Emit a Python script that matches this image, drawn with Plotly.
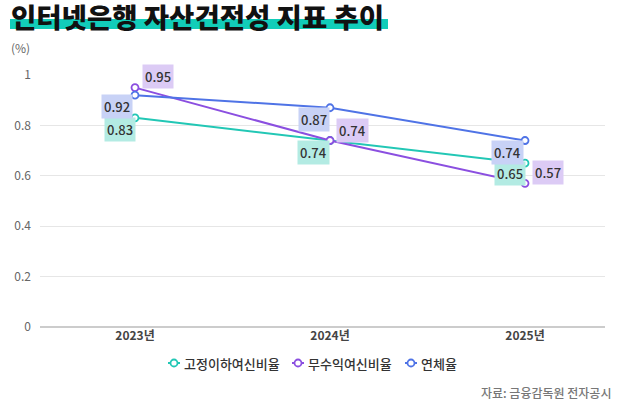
import plotly.graph_objects as go

# 데이터
years = ["2023년", "2024년", "2025년"]
npl_ratio = [0.83, 0.74, 0.65]      # 고정이하여신비율
nonperf_ratio = [0.95, 0.74, 0.57]  # 무수익여신비율
delinq_ratio = [0.92, 0.87, 0.74]   # 연체율
y_ticks = [0, 0.2, 0.4, 0.6, 0.8, 1]

FONT = "Noto Sans CJK KR"
x_pos = list(range(len(years)))

# 플롯 영역 (픽셀) -> paper 좌표 변환용
L, R, T, B = 40, 35, 75, 79
PW, PH = 640 - L - R, 406 - T - B


def px(x):
    return (x - L) / PW


def py(y):
    return (406 - B - y) / PH


series = [
    ("고정이하여신비율", npl_ratio, "#22c7b5", "#b3ebe3", [(-15, -12), (-17, -12), (-15, -10)], 174),
    ("무수익여신비율", nonperf_ratio, "#8b4fe0", "#dccbf5", [(23, 11), (22, 10), (23, 11)], 298),
    ("연체율", delinq_ratio, "#4f73e6", "#c8d2f6", [(-18, -11), (-16, -12), (-18, -12)], 411),
]

fig = go.Figure()
for name, vals, color, bg, shifts, lx in series:
    fig.add_trace(go.Scatter(
        x=x_pos, y=vals, name=name, mode="lines+markers",
        line=dict(color=color, width=2),
        marker=dict(symbol="circle", size=7, color="white", line=dict(color=color, width=1.8)),
        showlegend=False,
    ))
    # 값 라벨
    for i, v in enumerate(vals):
        fig.add_annotation(
            x=x_pos[i], y=v, text=f"{v:.2f}", showarrow=False,
            xshift=shifts[i][0], yshift=shifts[i][1],
            bgcolor=bg, borderpad=2,
            font=dict(family=FONT, size=13, color="#333333", weight=500),
        )
    # 범례 (작은 기호 직접 그림)
    ly = 363
    fig.add_shape(type="line", xref="paper", yref="paper",
                  x0=px(lx - 6), x1=px(lx + 6), y0=py(ly), y1=py(ly),
                  line=dict(color=color, width=2))
    fig.add_shape(type="circle", xref="paper", yref="paper",
                  x0=px(lx - 3.5), x1=px(lx + 3.5), y0=py(ly + 3.5), y1=py(ly - 3.5),
                  fillcolor="white", line=dict(color=color, width=1.8))
    fig.add_annotation(xref="paper", yref="paper", x=px(lx + 8), y=py(ly),
                       text=name, showarrow=False, xanchor="left", yanchor="middle",
                       font=dict(family=FONT, size=13, color="#333333", weight=500))

# 제목 밑 형광펜
fig.add_shape(type="rect", xref="paper", yref="paper",
              x0=px(10), x1=px(388), y0=py(29), y1=py(19),
              fillcolor="#12cdb9", line_width=0, layer="below")

fig.add_annotation(xref="paper", yref="paper", x=px(9), y=py(16),
                   text="인터넷은행 자산건전성 지표 추이", showarrow=False,
                   xanchor="left", yanchor="middle",
                   font=dict(family=FONT, size=27.5, color="#111111", weight=900))
fig.add_annotation(xref="paper", yref="paper", x=px(32), y=py(48),
                   text="(%)", showarrow=False, xanchor="right", yanchor="middle",
                   font=dict(family=FONT, size=12, color="#666666"))
fig.add_annotation(xref="paper", yref="paper", x=px(613), y=py(392),
                   text="자료: 금융감독원 전자공시", showarrow=False, xanchor="right", yanchor="middle",
                   font=dict(family=FONT, size=12, color="#777777", weight=500))

fig.update_layout(
    width=640, height=406,
    margin=dict(l=L, r=R, t=T, b=B, autoexpand=False),
    paper_bgcolor="white", plot_bgcolor="white",
    font=dict(family=FONT),
    showlegend=False,
    xaxis=dict(
        tickmode="array", tickvals=x_pos, ticktext=years,
        range=[-95 / 195, 2 + 80 / 195], automargin=False,
        showgrid=False, zeroline=False, showline=False, ticks="",
        tickfont=dict(family=FONT, size=12, color="#444444", weight=600),
    ),
    yaxis=dict(
        range=[0, 1], tickmode="array", tickvals=y_ticks,
        ticktext=[str(t) for t in y_ticks], automargin=False,
        showgrid=True, gridcolor="#e6e6e6", gridwidth=1,
        zeroline=True, zerolinecolor="#cccccc", zerolinewidth=2,
        showline=False, ticks="", ticklabelstandoff=8,
        tickfont=dict(family=FONT, size=12, color="#666666"),
    ),
)

# 브라우저 기본 여백 제거, 툴바 숨김
fig.write_html("out.html", config={"displayModeBar": False},
               post_script="document.body.style.margin='0';")
